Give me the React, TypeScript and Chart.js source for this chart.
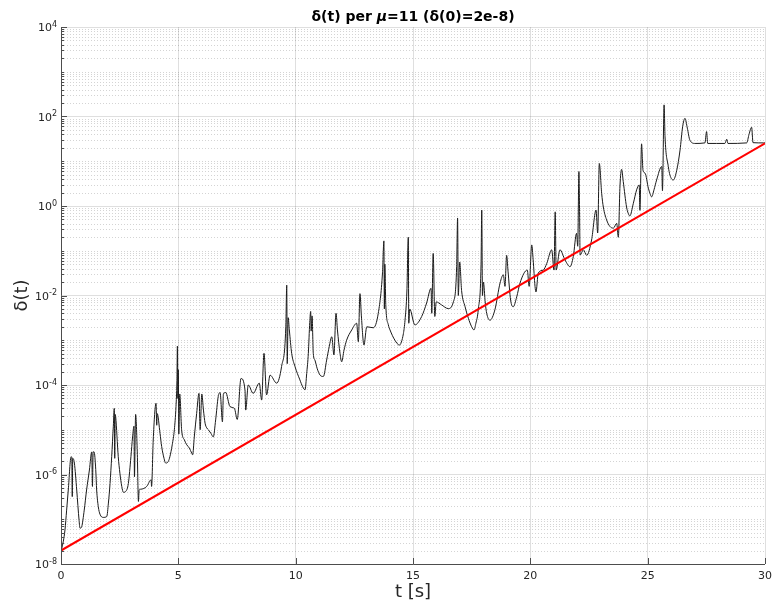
import { useEffect, useRef } from "react";
import { Chart, registerables } from "chart.js";

Chart.register(...registerables);

// Time [s] and divergence delta(t)
const timeS = [
  0.0, 0.03, 0.17, 0.24, 0.31, 0.43, 0.46, 0.48, 0.5, 0.57, 0.67, 0.77, 0.81, 0.88, 0.99, 1.09, 1.21, 1.31, 1.34, 1.37,
  1.41, 1.48, 1.52, 1.59, 1.66, 1.8, 1.95, 2.02, 2.09, 2.16, 2.23, 2.27, 2.29, 2.31, 2.33, 2.44, 2.51, 2.59, 2.66, 2.76,
  2.87, 2.98, 3.05, 3.11, 3.13, 3.18, 3.25, 3.3, 3.33, 3.41, 3.65, 3.84, 3.86, 3.93, 4.05, 4.08, 4.1, 4.22, 4.29, 4.39,
  4.46, 4.57, 4.64, 4.74, 4.83, 4.9, 4.94, 4.96, 4.98, 5.0, 5.02, 5.06, 5.14, 5.26, 5.36, 5.47, 5.57, 5.61, 5.68, 5.78,
  5.88, 5.93, 6.0, 6.07, 6.14, 6.21, 6.28, 6.39, 6.49, 6.59, 6.7, 6.78, 6.88, 6.92, 7.02, 7.2, 7.39, 7.51, 7.67, 7.84,
  7.87, 7.98, 8.19, 8.45, 8.55, 8.65, 8.76, 8.91, 9.19, 9.4, 9.58, 9.62, 9.64, 9.68, 9.73, 9.83, 9.97, 10.18, 10.3, 10.4,
  10.47, 10.54, 10.6, 10.64, 10.66, 10.7, 10.75, 10.82, 10.92, 11.04, 11.18, 11.32, 11.43, 11.54, 11.63, 11.72, 11.78, 11.89, 11.96, 12.06,
  12.17, 12.39, 12.6, 12.67, 12.74, 12.8, 12.91, 13.03, 13.31, 13.52, 13.7, 13.76, 13.78, 13.8, 13.84, 13.95, 14.02, 14.23, 14.42, 14.59,
  14.66, 14.74, 14.8, 14.82, 14.86, 15.08, 15.37, 15.58, 15.77, 15.8, 15.86, 15.93, 15.99, 16.21, 16.5, 16.72, 16.86, 16.9, 16.93, 16.99,
  17.07, 17.22, 17.36, 17.5, 17.6, 17.68, 17.78, 17.9, 17.93, 17.96, 18.0, 18.08, 18.14, 18.28, 18.49, 18.71, 18.85, 18.92, 18.99, 19.05,
  19.16, 19.27, 19.42, 19.56, 19.87, 19.95, 20.06, 20.12, 20.2, 20.24, 20.34, 20.55, 20.7, 20.91, 21.01, 21.06, 21.1, 21.26, 21.48, 21.69,
  21.83, 21.97, 22.02, 22.07, 22.1, 22.12, 22.26, 22.4, 22.61, 22.8, 22.87, 22.94, 23.04, 23.11, 23.25, 23.39, 23.54, 23.68, 23.75, 23.82,
  23.89, 23.96, 24.1, 24.17, 24.24, 24.39, 24.53, 24.64, 24.67, 24.74, 24.8, 24.89, 25.03, 25.1, 25.17, 25.27, 25.38, 25.6, 25.63, 25.7,
  25.74, 25.88, 25.95, 26.09, 26.24, 26.38, 26.49, 26.59, 26.69, 26.8, 27.02, 27.44, 27.51, 27.56, 27.94, 28.29, 28.37, 28.42, 29.22, 29.32,
  29.43, 29.49, 29.93, 30.0,
];

const delta = [
  2.0e-8, 2.2e-8, 5.8e-8, 1.6e-7, 4.5e-7, 2.5e-6, 2.4e-6, 3.2e-7, 2.3e-6, 1.8e-6, 4.5e-7, 9.5e-8, 6.3e-8, 6.8e-8, 1.6e-7, 4.5e-7, 1.26e-6, 3.2e-6, 5.4e-7, 3.2e-6,
  3.2e-6, 1.3e-6, 4.5e-7, 1.9e-7, 1.3e-7, 1.1e-7, 1.15e-7, 2.3e-7, 6.3e-7, 2.5e-6, 1.2e-5, 3.0e-5, 2.3e-6, 2.2e-5, 1.95e-5, 2.5e-6, 1.07e-6, 5.4e-7, 4.0e-7, 4.2e-7,
  6.3e-7, 2.5e-6, 6.9e-6, 1.2e-5, 8.9e-7, 2.2e-5, 3.2e-6, 2.5e-7, 4.5e-7, 4.7e-7, 5.4e-7, 7.6e-7, 5.4e-7, 5.9e-6, 3.9e-5, 1.26e-5, 2.3e-5, 8.3e-6, 4.2e-6, 2.3e-6,
  1.8e-6, 1.95e-6, 2.5e-6, 4.6e-6, 1.0e-5, 3.3e-5, 1.26e-4, 7.4e-4, 5.0e-5, 2.2e-4, 8.0e-6, 6.3e-5, 1.0e-5, 5.9e-6, 4.6e-6, 3.9e-6, 3.0e-6, 2.75e-6, 6.9e-6, 2.3e-5,
  6.5e-5, 1.0e-5, 6.3e-5, 2.75e-5, 1.4e-5, 1.1e-5, 1.0e-5, 8.3e-6, 6.9e-6, 1.66e-5, 5.5e-5, 6.8e-5, 1.5e-5, 6.3e-5, 6.8e-5, 3.3e-5, 3.0e-5, 1.7e-5, 1.4e-4, 7.8e-5,
  2.75e-5, 1.0e-4, 6.5e-5, 1.1e-4, 4.6e-5, 5.1e-4, 6.0e-5, 1.66e-4, 1.1e-4, 2.6e-4, 2.0e-3, 1.7e-2, 3.0e-4, 3.2e-3, 1.7e-3, 5.1e-4, 2.6e-4, 1.3e-4, 9.1e-5, 7.8e-5,
  1.8e-4, 5.1e-4, 2.5e-3, 4.4e-3, 1.6e-3, 3.5e-3, 5.1e-4, 3.6e-4, 2.3e-4, 1.66e-4, 1.55e-4, 3.6e-4, 7.2e-4, 1.2e-3, 4.7e-4, 4.0e-3, 1.7e-3, 5.1e-4, 3.3e-4, 6.0e-4,
  1.0e-3, 1.7e-3, 2.4e-3, 9.3e-4, 1.1e-2, 3.5e-3, 7.8e-4, 2.0e-3, 1.9e-3, 4.0e-3, 3.2e-2, 0.166, 5.0e-3, 5.0e-2, 6.3e-3, 2.2e-3, 1.7e-3, 1.0e-3, 7.8e-4, 1.4e-3,
  2.8e-3, 1.26e-2, 0.2, 2.4e-3, 5.0e-3, 2.2e-3, 3.4e-3, 6.8e-3, 1.45e-2, 4.0e-3, 8.7e-2, 3.4e-3, 7.2e-3, 6.2e-3, 5.1e-3, 7.2e-3, 4.4e-2, 0.54, 1.0e-2, 5.6e-2,
  1.3e-2, 5.6e-3, 3.1e-3, 2.0e-3, 1.7e-3, 2.4e-3, 4.8e-3, 5.0e-2, 0.81, 1.0e-2, 2.0e-2, 6.8e-3, 4.0e-3, 2.8e-3, 4.8e-3, 1.9e-2, 2.9e-2, 1.6e-2, 7.9e-2, 3.5e-2,
  7.9e-3, 5.6e-3, 9.3e-3, 1.9e-2, 3.7e-2, 1.6e-2, 0.135, 6.3e-2, 1.6e-2, 1.2e-2, 3.2e-2, 3.7e-2, 5.2e-2, 0.105, 3.7e-2, 0.74, 3.7e-2, 0.105, 6.2e-2, 4.4e-2,
  7.4e-2, 0.245, 0.126, 5.9, 0.63, 0.08, 0.105, 7.9e-2, 0.174, 0.81, 0.25, 8.9, 1.9, 0.95, 0.49, 0.35, 0.32, 0.41, 0.2, 2.8,
  6.6, 3.5, 0.95, 0.69, 0.6, 1.15, 2.3, 2.95, 0.8, 24.5, 6.3, 5.4, 2.5, 1.9, 1.6, 2.3, 3.8, 7.6, 2.2, 182,
  35, 7.6, 4.9, 3.8, 6.3, 17.8, 59, 91, 55, 29.5, 25, 25.7, 46, 25, 25, 25, 31, 25, 25.7, 40,
  57.5, 26, 25.7, 25.7,
];

// Exponential reference line
const fitTime = [0, 30];
const fitDelta = [2e-8, 25];

const xTickValues = [0, 5, 10, 15, 20, 25, 30];
const yTickValues = [1e-8, 1e-6, 1e-4, 1e-2, 1, 1e2, 1e4];
const yTickExponents = ["-8", "-6", "-4", "-2", "0", "2", "4"];

const FONT = "'DejaVu Sans', sans-serif";

export default function App() {
  const ref = useRef<HTMLCanvasElement>(null);

  useEffect(() => {
    document.body.style.margin = "0";
    const canvas = ref.current!;

    const minorValues: number[] = [];
    for (let n = -8; n < 4; n++) {
      for (let k = 1; k <= 9; k++) {
        if (k === 1 && n % 2 === 0) continue;
        minorValues.push(k * Math.pow(10, n));
      }
    }

    const decorPlugin = {
      id: "decor",
      beforeDatasetsDraw(chart: any) {
        const { ctx, chartArea } = chart;
        const y = chart.scales.y;
        ctx.save();
        ctx.strokeStyle = "rgba(38,38,38,0.2)";
        ctx.lineWidth = 1;
        ctx.setLineDash([1, 2]);
        for (const v of minorValues) {
          const py = Math.round(y.getPixelForValue(v)) + 0.5;
          ctx.beginPath();
          ctx.moveTo(chartArea.left, py);
          ctx.lineTo(chartArea.right, py);
          ctx.stroke();
        }
        ctx.restore();
      },
      afterDraw(chart: any) {
        const { ctx, chartArea } = chart;
        const x = chart.scales.x;
        const y = chart.scales.y;
        const L = chartArea.left;
        const B = chartArea.bottom;
        ctx.save();
        ctx.strokeStyle = "#4d4d4d";
        ctx.lineWidth = 1;
        ctx.beginPath();
        ctx.moveTo(L + 0.5, chartArea.top);
        ctx.lineTo(L + 0.5, B + 0.5);
        ctx.lineTo(chartArea.right, B + 0.5);
        ctx.stroke();
        ctx.beginPath();
        for (const v of xTickValues) {
          const px = Math.round(x.getPixelForValue(v)) + 0.5;
          ctx.moveTo(px, B);
          ctx.lineTo(px, B - 6);
        }
        for (const v of yTickValues) {
          const py = Math.round(y.getPixelForValue(v)) + 0.5;
          ctx.moveTo(L, py);
          ctx.lineTo(L + 6, py);
        }
        for (const v of minorValues) {
          const py = Math.round(y.getPixelForValue(v)) + 0.5;
          ctx.moveTo(L, py);
          ctx.lineTo(L + 3, py);
        }
        ctx.stroke();

        // Y tick labels: 10 with raised exponent
        ctx.fillStyle = "#262626";
        ctx.textAlign = "left";
        yTickValues.forEach((v, i) => {
          const py = y.getPixelForValue(v);
          const e = yTickExponents[i];
          ctx.font = `11px ${FONT}`;
          const wb = ctx.measureText("10").width;
          ctx.font = `8px ${FONT}`;
          const we = ctx.measureText(e).width;
          const x0 = L - 4 - wb - we;
          ctx.font = `11px ${FONT}`;
          ctx.textBaseline = "middle";
          ctx.fillText("10", x0, py + 1.5);
          ctx.font = `8px ${FONT}`;
          ctx.textBaseline = "alphabetic";
          ctx.fillText(e, x0 + wb, py - 0.5);
        });

        // Title with italic mu
        const segs = [
          { t: "δ(t) per ", f: `bold 14px ${FONT}` },
          { t: "μ", f: `italic bold 14px ${FONT}` },
          { t: "=11 (δ(0)=2e-8)", f: `bold 14px ${FONT}` },
        ];
        let total = 0;
        for (const s of segs) {
          ctx.font = s.f;
          total += ctx.measureText(s.t).width;
        }
        let cx = (chartArea.left + chartArea.right) / 2 - total / 2;
        ctx.fillStyle = "#000";
        ctx.textBaseline = "alphabetic";
        ctx.textAlign = "left";
        for (const s of segs) {
          ctx.font = s.f;
          ctx.fillText(s.t, cx, 21);
          cx += ctx.measureText(s.t).width;
        }

        // Axis titles
        ctx.fillStyle = "#262626";
        ctx.font = `18px ${FONT}`;
        ctx.textAlign = "center";
        ctx.textBaseline = "middle";
        ctx.fillText("t [s]", (chartArea.left + chartArea.right) / 2, 592);
        ctx.translate(22, (chartArea.top + chartArea.bottom) / 2);
        ctx.rotate(-Math.PI / 2);
        ctx.fillText("δ(t)", 0, 0);
        ctx.restore();
      },
    };

    const chart = new Chart(canvas, {
      type: "line",
      data: {
        datasets: [
          {
            data: fitTime.map((t, i) => ({ x: t, y: fitDelta[i] })),
            borderColor: "#ff0000",
            borderWidth: 2,
            pointRadius: 0,
            tension: 0,
            order: 0,
          },
          {
            data: timeS.map((t, i) => ({ x: t, y: delta[i] })),
            borderColor: "#1a1a1a",
            borderWidth: 1,
            pointRadius: 0,
            cubicInterpolationMode: "monotone",
            order: 1,
          },
        ],
      },
      options: {
        animation: false,
        responsive: false,
        events: [],
        layout: { padding: { top: 27, right: 7, left: 0, bottom: 0 } },
        plugins: { legend: { display: false }, tooltip: { enabled: false }, title: { display: false } },
        scales: {
          x: {
            type: "linear",
            min: 0,
            max: 30,
            afterBuildTicks: (s: any) => {
              s.ticks = xTickValues.map((v) => ({ value: v }));
            },
            afterFit: (s: any) => {
              s.height = 38;
              s.paddingLeft = 0;
              s.paddingRight = 0;
            },
            grid: { color: "rgba(38,38,38,0.15)", drawTicks: false },
            border: { display: false },
            ticks: {
              padding: 6,
              maxRotation: 0,
              autoSkip: false,
              color: "#262626",
              font: { family: FONT, size: 11 },
              callback: (v: any) => String(v),
            },
          },
          y: {
            type: "logarithmic",
            min: 1e-8,
            max: 1e4,
            afterBuildTicks: (s: any) => {
              s.ticks = yTickValues.map((v) => ({ value: v }));
            },
            afterFit: (s: any) => {
              s.width = 61;
              s.paddingTop = 0;
              s.paddingBottom = 0;
            },
            grid: { color: "rgba(38,38,38,0.15)", drawTicks: false },
            border: { display: false },
            ticks: { display: false },
          },
        },
      },
      plugins: [decorPlugin],
    } as any);

    return () => chart.destroy();
  }, []);

  return <canvas ref={ref} width={772} height={602} style={{ display: "block" }} />;
}
